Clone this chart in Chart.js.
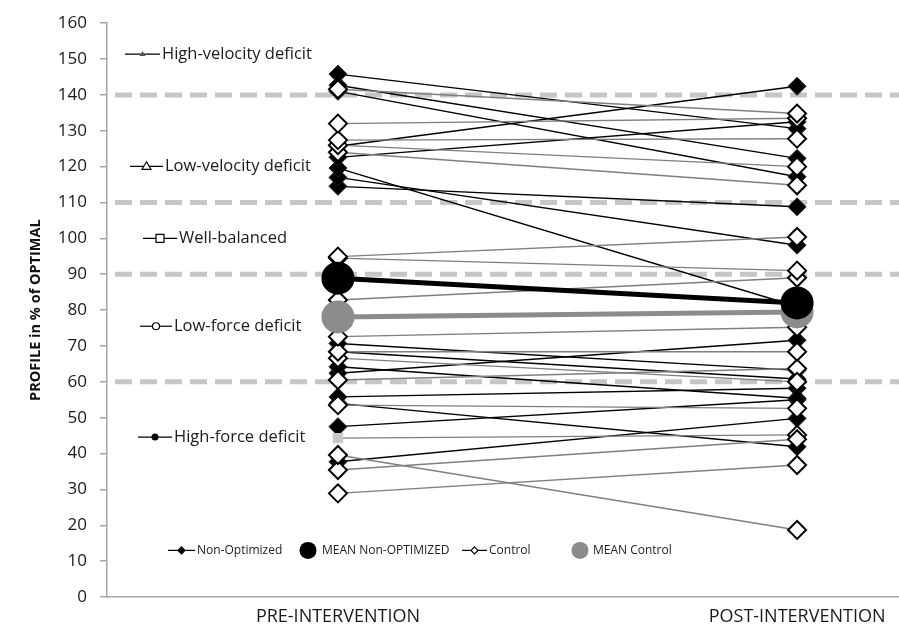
<!DOCTYPE html>
<html lang="en">
<head>
<meta charset="UTF-8">
<title>Profile in % of optimal</title>
<script src="https://cdn.jsdelivr.net/npm/chart.js"></script>
<style>
  html, body { margin: 0; padding: 0; background: #fff; overflow: hidden; }
  .chart-box { width: 899px; height: 631px; position: relative; }
</style>
</head>
<body>
<div class="chart-box"><canvas id="profileChart"></canvas></div>
<script>
// categories on the x axis
const phases = ['PRE-INTERVENTION', 'POST-INTERVENTION'];

// individual subjects, same index = same subject (pre -> post)
const nonOptPre  = [145.8, 142.7, 141.0, 125.7, 122.6, 119.6, 117.0, 114.5, 70.7, 68.4, 64.2, 62.4, 55.8, 54.0, 47.5, 37.7];
const nonOptPost = [130.6, 122.3, 117.2, 142.4, 132.5, 81.0, 98.1, 108.8, 63.2, 60.8, 55.4, 71.6, 58.2, 41.9, 55.0, 49.8];

const controlPre  = [141.6, 132.0, 127.4, 126.0, 124.0, 94.9, 94.5, 82.8, 72.6, 68.4, 66.6, 60.5, 53.5, 39.6, 35.4, 28.9];
const controlPost = [134.8, 133.5, 127.8, 120.0, 114.8, 100.4, 91.0, 89.0, 75.2, 68.4, 60.0, 63.7, 52.6, 18.7, 44.0, 36.8];

// one subject drawn with a grey square at pre
const squarePre  = [44.3];
const squarePost = [45.2];

// group means
const meanNonOpt  = [88.9, 82.0];
const meanControl = [78.1, 79.5];

// zone boundaries (dashed) and zone names
const zoneLines = [140, 110, 90, 60];
const zoneNames = ['High-velocity deficit', 'Low-velocity deficit', 'Well-balanced', 'Low-force deficit', 'High-force deficit'];
const zoneNameY = [151.4, 120.1, 100, 75.5, 44.6];

const legendNames = ['Non-Optimized', 'MEAN Non-OPTIMIZED', 'Control', 'MEAN Control'];

const FONT = '"Open Sans", "Liberation Sans", sans-serif';

function pair(a, b) {
    return [{ x: 0, y: a }, { x: 1, y: b }];
}

const datasets = [];

nonOptPre.forEach((v, i) => {
    datasets.push({
        data: pair(v, nonOptPost[i]),
        borderColor: '#000',
        borderWidth: 1.4,
        pointStyle: 'rectRot',
        pointRadius: 9,
        pointBackgroundColor: '#000',
        pointBorderColor: '#222',
        pointBorderWidth: 1,
        order: 3
    });
});

controlPre.forEach((v, i) => {
    datasets.push({
        data: pair(v, controlPost[i]),
        borderColor: '#7f7f7f',
        borderWidth: 1.4,
        pointStyle: 'rectRot',
        pointRadius: 9,
        pointBackgroundColor: '#fff',
        pointBorderColor: '#000',
        pointBorderWidth: 2,
        order: 2
    });
});

squarePre.forEach((v, i) => {
    datasets.push({
        data: pair(v, squarePost[i]),
        borderColor: '#7f7f7f',
        borderWidth: 1.4,
        pointStyle: ['rect', 'rectRot'],
        pointRadius: [6, 9],
        pointBackgroundColor: ['#c8c8c8', '#fff'],
        pointBorderColor: ['#c8c8c8', '#000'],
        pointBorderWidth: 2,
        order: 2
    });
});

datasets.push({
    data: pair(meanControl[0], meanControl[1]),
    borderColor: '#8c8c8c',
    borderWidth: 5,
    pointStyle: 'circle',
    pointRadius: 14,
    pointBackgroundColor: '#8c8c8c',
    pointBorderColor: '#8c8c8c',
    order: 1
});
datasets.push({
    data: pair(meanNonOpt[0], meanNonOpt[1]),
    borderColor: '#000',
    borderWidth: 5,
    pointStyle: 'circle',
    pointRadius: 14,
    pointBackgroundColor: '#000',
    pointBorderColor: '#000',
    order: 0
});

// dashed zone boundaries behind the data
const zonePlugin = {
    id: 'zones',
    beforeDatasetsDraw(chart) {
        const { ctx, chartArea, scales: { y } } = chart;
        ctx.save();
        ctx.strokeStyle = '#c6c6c6';
        ctx.lineWidth = 5;
        ctx.setLineDash([17, 8]);
        zoneLines.forEach(v => {
            const py = y.getPixelForValue(v);
            ctx.beginPath();
            ctx.moveTo(chartArea.left + 8, py);
            ctx.lineTo(chartArea.right, py);
            ctx.stroke();
        });
        ctx.restore();

        // zone names with their little markers
        const lineX = [[125, 160], [130, 163], [143, 177], [140, 172], [138, 172]];
        ctx.save();
        ctx.font = '16.5px ' + FONT;
        ctx.fillStyle = '#1a1a1a';
        ctx.textBaseline = 'middle';
        zoneNames.forEach((name, i) => {
            const py = y.getPixelForValue(zoneNameY[i]);
            const [x0, x1] = lineX[i];
            const cx = (x0 + x1) / 2;
            ctx.strokeStyle = '#000';
            ctx.lineWidth = 1.2;
            ctx.beginPath();
            ctx.moveTo(x0, py);
            ctx.lineTo(x1, py);
            ctx.stroke();
            ctx.beginPath();
            if (i === 0) {
                ctx.fillStyle = '#555';
                ctx.moveTo(cx, py - 3); ctx.lineTo(cx + 3, py + 2); ctx.lineTo(cx - 3, py + 2); ctx.closePath();
                ctx.fill();
            } else if (i === 1) {
                ctx.fillStyle = '#fff';
                ctx.moveTo(cx, py - 4.5); ctx.lineTo(cx + 4.5, py + 3); ctx.lineTo(cx - 4.5, py + 3); ctx.closePath();
                ctx.fill(); ctx.stroke();
            } else if (i === 2) {
                ctx.fillStyle = '#fff';
                ctx.rect(cx - 4, py - 4, 8, 8);
                ctx.fill(); ctx.stroke();
            } else if (i === 3) {
                ctx.fillStyle = '#fff';
                ctx.arc(cx, py, 3.5, 0, Math.PI * 2);
                ctx.fill(); ctx.stroke();
            } else {
                ctx.fillStyle = '#000';
                ctx.arc(cx, py, 3.5, 0, Math.PI * 2);
                ctx.fill();
            }
            ctx.fillStyle = '#1a1a1a';
            ctx.textAlign = 'left';
            ctx.fillText(name, x1 + 2, py);
        });
        ctx.restore();
    }
};

// legend drawn inside the plot, near the bottom
const legendPlugin = {
    id: 'innerLegend',
    afterDraw(chart) {
        const { ctx, scales: { y } } = chart;
        const py = y.getPixelForValue(13);
        ctx.save();
        ctx.font = '12px ' + FONT;
        ctx.textBaseline = 'middle';
        ctx.textAlign = 'left';
        ctx.lineWidth = 1.2;

        function lineMarker(x0, x1, fill) {
            const cx = (x0 + x1) / 2;
            ctx.strokeStyle = '#000';
            ctx.beginPath(); ctx.moveTo(x0, py); ctx.lineTo(x1, py); ctx.stroke();
            ctx.beginPath();
            ctx.moveTo(cx, py - 3.5); ctx.lineTo(cx + 3.5, py); ctx.lineTo(cx, py + 3.5); ctx.lineTo(cx - 3.5, py); ctx.closePath();
            ctx.fillStyle = fill; ctx.fill(); ctx.stroke();
        }
        function dot(cx, color) {
            ctx.beginPath(); ctx.arc(cx, py, 8.5, 0, Math.PI * 2);
            ctx.fillStyle = color; ctx.fill();
        }

        lineMarker(168, 195, '#000');
        ctx.fillStyle = '#222'; ctx.fillText(legendNames[0], 197, py);
        dot(308, '#000');
        ctx.fillStyle = '#222'; ctx.fillText(legendNames[1], 322, py);
        lineMarker(462, 487, '#fff');
        ctx.fillStyle = '#222'; ctx.fillText(legendNames[2], 489, py);
        dot(580, '#8c8c8c');
        ctx.fillStyle = '#222'; ctx.fillText(legendNames[3], 593, py);
        ctx.restore();
    }
};

new Chart(document.getElementById('profileChart'), {
    type: 'line',
    data: { datasets: datasets },
    plugins: [zonePlugin, legendPlugin],
    options: {
        responsive: true,
        maintainAspectRatio: false,
        animation: false,
        layout: { autoPadding: false, padding: { top: 23, right: 0, left: 0, bottom: 0 } },
        plugins: {
            legend: { display: false },
            tooltip: { enabled: false }
        },
        scales: {
            x: {
                type: 'linear',
                min: -0.503,
                max: 1.222,
                afterBuildTicks: axis => { axis.ticks = [{ value: 0 }, { value: 1 }]; },
                afterFit: scale => {
                    scale.height = 34;
                    scale.paddingLeft = 0;
                    scale.paddingRight = 0;
                },
                grid: { display: false },
                border: { display: true, color: '#a6a6a6', width: 1.5 },
                ticks: {
                    callback: v => phases[v],
                    font: { family: FONT, size: 18 },
                    color: '#1a1a1a',
                    padding: 1,
                    maxRotation: 0
                }
            },
            y: {
                min: 0,
                max: 160,
                afterFit: scale => { scale.width = 107; },
                grid: { drawOnChartArea: false, drawTicks: true, tickLength: 7, color: '#a6a6a6', lineWidth: 1.5 },
                border: { display: true, color: '#a6a6a6', width: 1.5 },
                ticks: {
                    stepSize: 10,
                    font: { family: FONT, size: 17 },
                    color: '#1a1a1a',
                    padding: 13
                },
                title: {
                    display: true,
                    text: 'PROFILE in % of OPTIMAL',
                    font: { family: FONT, size: 14.5, weight: 'bold' },
                    color: '#111',
                    padding: { top: 27, bottom: 0 }
                }
            }
        }
    }
});
</script>
</body>
</html>
